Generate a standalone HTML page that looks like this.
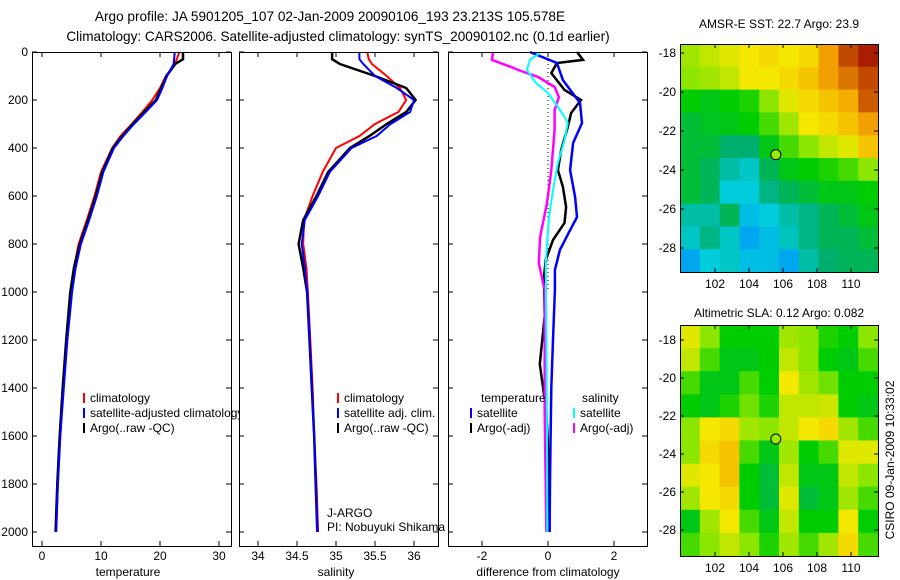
<!DOCTYPE html>
<html><head><meta charset="utf-8"><style>
body{margin:0;background:#fff}
svg{display:block;font-family:"Liberation Sans",sans-serif}
</style></head><body>
<svg id="c" width="900" height="580" xmlns="http://www.w3.org/2000/svg"></svg>
<script>
// ---- temperature panel data ----
const tDepth=[0,50,100,150,200,250,300,350,400,500,600,700,800,900,1000,1200,1400,1600,1800,2000];
const tClim=[23.3,22.5,21.0,20.0,18.7,17.0,15.2,13.3,11.9,10.0,8.9,7.6,6.2,5.4,4.9,4.2,3.6,3.1,2.7,2.4];
const tSat=[22.5,22.3,21.2,20.4,19.5,17.6,15.6,13.8,12.2,10.4,9.3,8.0,6.6,5.7,5.1,4.3,3.7,3.1,2.7,2.4];
const tArgoDepth=[0,30,50,100,150,200,250,300,350,400,500,600,700,800,900,1000,1200,1400,1600,1800,2000];
const tArgo=[23.9,23.9,22.6,21.1,20.2,19.3,17.3,15.4,13.6,12.0,10.2,9.1,7.8,6.4,5.4,4.8,4.1,3.5,3.0,2.6,2.3];
// ---- salinity panel data ----
const sDepth=[0,30,50,100,150,200,250,300,350,400,500,600,700,800,900,1000,1200,1400,1600,1800,2000];
const sClim=[35.40,35.42,35.46,35.65,35.82,35.90,35.80,35.50,35.30,35.00,34.83,34.70,34.59,34.58,34.62,34.64,34.67,34.70,34.72,34.75,34.77];
const sSat=[35.30,35.30,35.35,35.50,35.78,36.00,35.95,35.70,35.52,35.20,34.92,34.77,34.60,34.56,34.60,34.63,34.66,34.69,34.72,34.74,34.76];
const sArgo=[34.95,34.95,35.05,35.50,35.90,36.02,35.90,35.65,35.43,35.18,34.90,34.75,34.58,34.52,34.58,34.63,34.66,34.69,34.72,34.74,34.76];
// ---- difference panel data ----
const dTSatDepth=[0,46,117,212,296,379,492,604,688,742,825,908,992,1200,1400,1600,1800,2000];
const dTSat=[-0.55,0.27,0.45,0.97,1.03,0.76,0.67,0.82,0.88,0.67,0.36,0.21,0.21,0.15,0.10,0.08,0.06,0.05];
const dTArgoDepth=[0,33,46,88,158,200,254,312,408,492,562,646,712,783,867,938,1100,1300,1500,1700,2000];
const dTArgo=[0.88,1.06,0.27,0.10,0.50,1.00,0.70,0.60,0.40,0.30,0.45,0.55,0.50,0.15,-0.07,-0.12,-0.10,-0.25,-0.05,0.02,0.05];
const dSArgoDepth=[4,33,62,75,104,146,188,242,325,492,629,771,879,992,1500,2000];
const dSArgo=[-1.67,-1.70,-1.12,-0.90,-0.30,0.20,0.33,0.20,0.20,0.10,-0.03,-0.24,-0.28,-0.10,-0.10,-0.05];
const dSSatDepth=[4,33,75,129,171,229,271,296,367,462,575,688,879,1200,1600,2000];
const dSSat=[-0.25,-0.55,-0.64,-0.36,0.00,0.30,0.50,0.60,0.50,0.30,0.15,0.03,-0.07,-0.05,-0.03,-0.02];
// ---- map data (rows north->south, cols west->east), normalised colour values ----
const sstGrid=[
[.62,.65,.68,.70,.72,.70,.72,.80,.90,.95],
[.60,.62,.65,.70,.70,.72,.75,.80,.85,.90],
[.50,.48,.50,.52,.60,.68,.72,.75,.78,.88],
[.45,.47,.48,.50,.55,.62,.70,.72,.75,.80],
[.45,.45,.40,.40,.48,.55,.60,.65,.68,.75],
[.45,.42,.35,.32,.42,.48,.50,.52,.55,.60],
[.45,.42,.30,.30,.38,.42,.45,.48,.48,.50],
[.35,.35,.42,.28,.30,.35,.38,.42,.45,.48],
[.32,.38,.32,.25,.28,.33,.38,.42,.42,.45],
[.25,.30,.32,.28,.28,.25,.35,.40,.42,.42]];
const slaGrid=[
[.68,.60,.50,.50,.50,.62,.60,.52,.50,.60],
[.65,.55,.48,.48,.50,.65,.60,.50,.48,.55],
[.55,.48,.48,.55,.50,.70,.62,.58,.50,.50],
[.50,.48,.52,.58,.52,.65,.65,.66,.50,.48],
[.60,.70,.72,.62,.60,.65,.70,.72,.62,.55],
[.60,.72,.75,.55,.48,.62,.50,.55,.68,.68],
[.68,.70,.75,.50,.45,.65,.48,.48,.65,.60],
[.62,.70,.72,.50,.45,.68,.45,.48,.62,.55],
[.48,.62,.70,.55,.48,.65,.50,.50,.70,.50],
[.55,.60,.65,.60,.52,.62,.55,.62,.72,.55]];
const depthTicks=[0,200,400,600,800,1000,1200,1400,1600,1800,2000];
const tTicks=[0,10,20,30];
const sTicks=[34,34.5,35,35.5,36];
const dTicks=[-2,0,2];
const latTicks=[-18,-20,-22,-24,-26,-28];
const lonTicks=[102,104,106,108,110];

const NS="http://www.w3.org/2000/svg";
const svg=document.getElementById('c');
function el(tag,attrs,parent){const e=document.createElementNS(NS,tag);for(const k in attrs)e.setAttribute(k,attrs[k]);(parent||svg).appendChild(e);return e;}
function txt(s,x,y,anchor,name,size){const t=el('text',{x:x,y:y,'font-size':size||12,'text-anchor':anchor||'start',fill:'#000'});t.textContent=s;return t;}

const Y0=52, DY=0.24, PB=546;
const yD=d=>Y0+d*DY;
const panels=[
 {x0:32,x1:231,fx:v=>42+v*5.9,ticks:tTicks,label:'temperature',lx:128,name:'temperature-panel'},
 {x0:239,x1:438,fx:v=>258+(v-34)*78,ticks:sTicks,label:'salinity',lx:336,name:'salinity-panel'},
 {x0:448,x1:647,fx:v=>548+v*33,ticks:dTicks,label:'difference from climatology',lx:548,name:'difference-panel'}];

function line(xs,ds,fx,color,name,w){
 const pts=xs.map((v,i)=>fx(v).toFixed(1)+','+yD(ds[i]).toFixed(1)).join(' ');
 const p=el('polyline',{points:pts,fill:'none',stroke:color,'stroke-width':w||2});
 
}
function legend(x,y,color,label,name){
 const l=el('line',{x1:x,y1:y-9,x2:x,y2:y+1,stroke:color,'stroke-width':2});
 
 txt(label,x+6,y,'start',name);
}
function frame(p,i){
 const g=el('g',{});
 
 el('rect',{x:p.x0,y:Y0,width:p.x1-p.x0,height:PB-Y0,fill:'#fff',stroke:'none'},g);
 return g;
}
function axes(p,i){
 el('rect',{x:p.x0+.5,y:Y0+.5,width:p.x1-p.x0,height:PB-Y0,fill:'none',stroke:'#000','stroke-width':1});
 depthTicks.forEach(d=>{const y=yD(d);
  el('line',{x1:p.x0,y1:y,x2:p.x0+5,y2:y,stroke:'#000'});el('line',{x1:p.x1-5,y1:y,x2:p.x1,y2:y,stroke:'#000'});
  if(i===0)txt(String(d),p.x0-4,y+4,'end','depth-tick-label');});
 p.ticks.forEach(v=>{const x=p.fx(v);
  el('line',{x1:x,y1:Y0,x2:x,y2:Y0+5,stroke:'#000'});el('line',{x1:x,y1:PB-5,x2:x,y2:PB,stroke:'#000'});
  txt(String(v),x,560,'middle','x-tick-label');});
 txt(p.label,p.lx,576,'middle','x-axis-title');
}
// titles
txt('Argo profile: JA 5901205_107 02-Jan-2009 20090106_193 23.213S 105.578E',330,21,'middle','title-line-1',13.6);
txt('Climatology: CARS2006. Satellite-adjusted climatology: synTS_20090102.nc (0.1d earlier)',338,41,'middle','title-line-2',13.6);

// panel 1
frame(panels[0],0);
line(tClim,tDepth,panels[0].fx,'#f00','temp-climatology-line');
line(tArgo,tArgoDepth,panels[0].fx,'#000','temp-argo-line',2.5);
line(tSat,tDepth,panels[0].fx,'#00f','temp-satellite-line');
legend(84,402,'#f00','climatology','legend-climatology');
legend(84,417,'#00f','satellite-adjusted climatology','legend-satellite-adjusted');
legend(84,432,'#000','Argo(..raw -QC)','legend-argo');
// panel 2
frame(panels[1],1);
line(sClim,sDepth,panels[1].fx,'#f00','sal-climatology-line');
line(sArgo,sDepth,panels[1].fx,'#000','sal-argo-line',2.5);
line(sSat,sDepth,panels[1].fx,'#00f','sal-satellite-line');
legend(338,402,'#f00','climatology','legend-sal-climatology');
legend(338,417,'#00f','satellite adj. clim.','legend-sal-satellite');
legend(338,432,'#000','Argo(..raw -QC)','legend-sal-argo');
txt('J-ARGO',327,517,'start','data-centre-label');
txt('PI: Nobuyuki Shikama',327,531,'start','pi-label');
// panel 3
frame(panels[2],2);
el('line',{x1:548,y1:Y0,x2:548,y2:292,stroke:'#000','stroke-dasharray':'1,3'});
line(dTArgo,dTArgoDepth,panels[2].fx,'#000','diff-temp-argo-line',2.5);
line(dTSat,dTSatDepth,panels[2].fx,'#00f','diff-temp-satellite-line',2.5);
line(dSArgo,dSArgoDepth,panels[2].fx,'#f0f','diff-sal-argo-line',2.5);
line(dSSat,dSSatDepth,panels[2].fx,'#0ff','diff-sal-satellite-line',2);
txt('temperature',481,402,'start','legend-temperature-header');
txt('salinity',582,402,'start','legend-salinity-header');
legend(471,417,'#00f','satellite','legend-diff-temp-satellite');
legend(471,432,'#000','Argo(-adj)','legend-diff-temp-argo');
legend(574,417,'#0ff','satellite','legend-diff-sal-satellite');
legend(574,432,'#f0f','Argo(-adj)','legend-diff-sal-argo');
panels.forEach((p,i)=>axes(p,i));

// maps
const stops=[[0,[0,60,255]],[0.2,[0,128,255]],[0.3,[0,205,220]],[0.4,[0,175,110]],[0.5,[0,205,0]],[0.6,[140,230,0]],[0.7,[245,232,0]],[0.8,[242,160,0]],[0.95,[170,30,0]],[1,[140,0,0]]];
function cmap(v){for(let i=1;i<stops.length;i++){if(v<=stops[i][0]){const a=stops[i-1],b=stops[i],t=(v-a[0])/(b[0]-a[0]);return 'rgb('+a[1].map((c,k)=>Math.round(c+(b[1][k]-c)*t)).join(',')+')';}}return 'rgb(140,0,0)';}
function map(grid,mx0,my0,mx1,my1,lat0,latStep,title,ty,name){
 const g=el('g',{});
 const rows=grid.length,cols=grid[0].length,cw=(mx1-mx0)/cols,ch=(my1-my0)/rows;
 grid.forEach((r,i)=>r.forEach((v,j)=>{const c=el('rect',{x:mx0+j*cw,y:my0+i*ch,width:cw+.5,height:ch+.5,fill:cmap(v)},g);
  }));
 el('rect',{x:mx0+.5,y:my0+.5,width:mx1-mx0,height:my1-my0,fill:'none',stroke:'#000'});
 const lonX=l=>715+(l-102)*17, latY=l=>lat0+(-18-l)*latStep;
 latTicks.forEach(l=>{const y=latY(l);el('line',{x1:mx0,y1:y,x2:mx0+4,y2:y,stroke:'#000'});el('line',{x1:mx1-4,y1:y,x2:mx1,y2:y,stroke:'#000'});txt(String(l),mx0-4,y+4,'end','lat-tick-label');});
 lonTicks.forEach(l=>{const x=lonX(l);el('line',{x1:x,y1:my0,x2:x,y2:my0+4,stroke:'#000'});el('line',{x1:x,y1:my1-4,x2:x,y2:my1,stroke:'#000'});txt(String(l),x,my1+16,'middle','lon-tick-label');});
 const m=el('circle',{cx:lonX(105.578),cy:latY(-23.213),r:5,fill:'#9e0',stroke:'#000'});
 
 txt(title,(mx0+mx1)/2,ty,'middle','map-title');
}
map(sstGrid,680,44,878,272,53,19.5,'AMSR-E SST: 22.7 Argo: 23.9',28,'sst-map');
map(slaGrid,680,325,878,556,340,19,'Altimetric SLA: 0.12 Argo: 0.082',317,'sla-map');
const cr=txt('CSIRO 09-Jan-2009 10:33:02',0,0,'middle','timestamp-credit');
cr.setAttribute('transform','translate(894,460) rotate(-90)');
</script>
</body></html>
